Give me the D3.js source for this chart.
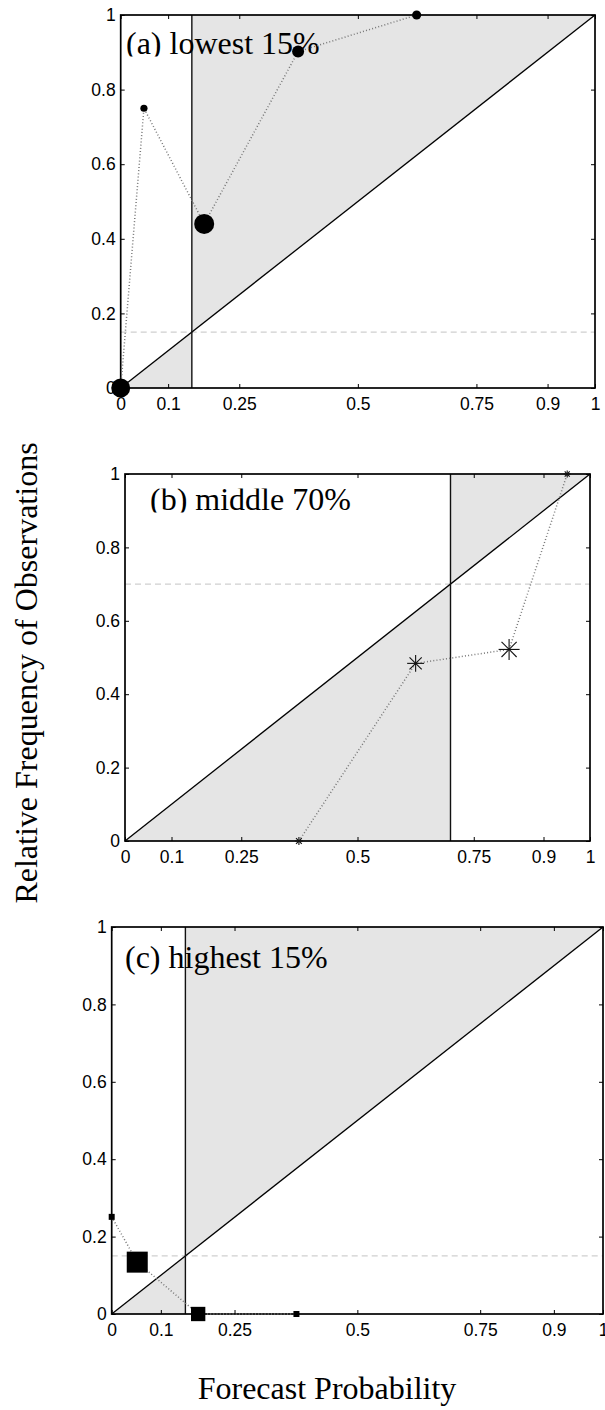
<!DOCTYPE html>
<html>
<head>
<meta charset="utf-8">
<script src="https://cdn.jsdelivr.net/npm/d3@7"></script>
<style>
  html, body { margin: 0; padding: 0; background: #fff; }
  svg { display: block; }
</style>
</head>
<body>
<script>
// ---------------- data ----------------
const xTicks = [0, 0.1, 0.25, 0.5, 0.75, 0.9, 1];
const yTicks = [0, 0.2, 0.4, 0.6, 0.8, 1];
const panelTitles = ["(a) lowest 15%", "(b) middle 70%", "(c) highest 15%"];
const climatology = [0.15, 0.70, 0.15];

const aForecast = [0, 0.049, 0.176, 0.374, 0.624];
const aObserved = [0, 0.75, 0.44, 0.902, 1];
const aWeight   = [0.35, 0.05, 0.39, 0.14, 0.08];

const bForecast = [0.374, 0.625, 0.826, 0.951];
const bObserved = [0, 0.484, 0.522, 1];
const bWeight   = [0.062, 0.28, 0.43, 0.048];

const cForecast = [0, 0.052, 0.176, 0.376];
const cObserved = [0.251, 0.134, 0, 0];
const cWeight   = [0.035, 0.43, 0.2, 0.035];

const xLabel = "Forecast Probability";
const yLabel = "Relative Frequency of Observations";

// ---------------- layout ----------------
const W = 605, H = 1410;
const panels = [
  {left: 120.7, right: 595, top: 15,  bottom: 388,  titleX: 126, titleY: 54,  clip: [0, 56.5],
   fx: aForecast, fy: aObserved, w: aWeight, marker: "circle"},
  {left: 125,   right: 590, top: 474, bottom: 841,  titleX: 150, titleY: 510, clip: [488.6, 512.5],
   fx: bForecast, fy: bObserved, w: bWeight, marker: "asterisk"},
  {left: 111.7, right: 603, top: 927, bottom: 1314, titleX: 125, titleY: 968, clip: [900, 1000],
   fx: cForecast, fy: cObserved, w: cWeight, marker: "square"}
];

const serif = "'Liberation Serif', 'Times New Roman', serif";
const sans = "'Liberation Sans', Arial, Helvetica, sans-serif";

const svg = d3.select("body").append("svg")
  .attr("width", W).attr("height", H)
  .attr("viewBox", `0 0 ${W} ${H}`);

const defs = svg.append("defs");
const sizeScale = d3.scaleSqrt().domain([0, 0.39]).range([0, 10]);

panels.forEach((p, i) => {
  const c = climatology[i];
  const x = d3.scaleLinear().domain([0, 1]).range([p.left, p.right]);
  const y = d3.scaleLinear().domain([0, 1]).range([p.bottom, p.top]);
  const g = svg.append("g");

  // shaded skill regions
  const poly = d3.line().x(d => x(d[0])).y(d => y(d[1]));
  g.append("path").attr("d", poly([[0, 0], [c, 0], [c, c]]) + "Z")
    .attr("fill", "#e5e5e5").attr("stroke", "none");
  g.append("path").attr("d", poly([[c, c], [c, 1], [1, 1]]) + "Z")
    .attr("fill", "#e5e5e5").attr("stroke", "none");

  // climatology dashed horizontal line
  g.append("line")
    .attr("x1", x(0)).attr("x2", x(1)).attr("y1", y(c)).attr("y2", y(c))
    .attr("stroke", "#cfcfcf").attr("stroke-width", 1.2).attr("stroke-dasharray", "6,4");

  // diagonal
  g.append("line")
    .attr("x1", x(0)).attr("y1", y(0)).attr("x2", x(1)).attr("y2", y(1))
    .attr("stroke", "#000").attr("stroke-width", 1.3);

  // vertical climatology line
  g.append("line")
    .attr("x1", x(c)).attr("x2", x(c)).attr("y1", y(0)).attr("y2", y(1))
    .attr("stroke", "#111").attr("stroke-width", 1.4);

  // axes (ticks inward)
  const fmt = d => String(d);
  const axB = g.append("g").attr("transform", `translate(0,${p.bottom})`)
    .call(d3.axisBottom(x).tickValues(xTicks).tickFormat(fmt).tickSizeInner(-4).tickSizeOuter(0).tickPadding(9.2));
  const axT = g.append("g").attr("transform", `translate(0,${p.top})`)
    .call(d3.axisTop(x).tickValues(xTicks).tickFormat("").tickSizeInner(-4).tickSizeOuter(0));
  const axL = g.append("g").attr("transform", `translate(${p.left},0)`)
    .call(d3.axisLeft(y).tickValues(yTicks).tickFormat(fmt).tickSizeInner(-4).tickSizeOuter(0).tickPadding(5));
  const axR = g.append("g").attr("transform", `translate(${p.right},0)`)
    .call(d3.axisRight(y).tickValues(yTicks).tickFormat("").tickSizeInner(-4).tickSizeOuter(0));
  [axB, axT, axL, axR].forEach(a => {
    a.select(".domain").remove();
    a.selectAll(".tick line").attr("stroke", "#000").attr("stroke-width", 1);
    a.selectAll(".tick text").attr("fill", "#000")
      .style("font-family", sans).style("font-size", "17.5px");
  });

  // frame box
  g.append("rect")
    .attr("x", p.left).attr("y", p.top)
    .attr("width", p.right - p.left).attr("height", p.bottom - p.top)
    .attr("fill", "none").attr("stroke", "#000").attr("stroke-width", 1.7);

  // panel title (clipped window as in the reference)
  const cid = "titleclip" + i;
  defs.append("clipPath").attr("id", cid).append("rect")
    .attr("x", 0).attr("y", p.clip[0]).attr("width", W).attr("height", p.clip[1] - p.clip[0]);
  g.append("text")
    .attr("x", p.titleX).attr("y", p.titleY)
    .attr("clip-path", `url(#${cid})`)
    .style("font-family", serif).style("font-size", "32px")
    .attr("fill", "#000")
    .text(panelTitles[i]);

  // reliability curve (dotted)
  const pts = p.fx.map((f, k) => [f, p.fy[k], p.w[k]]);
  g.append("path")
    .attr("d", d3.line().x(d => x(d[0])).y(d => y(d[1]))(pts))
    .attr("fill", "none").attr("stroke", "#777")
    .attr("stroke-width", 1.5).attr("stroke-dasharray", "1,2.2");

  // markers
  const mg = g.append("g");
  pts.forEach(d => {
    const r = sizeScale(d[2]);
    const cx = x(d[0]), cy = y(d[1]);
    if (p.marker === "circle") {
      mg.append("circle").attr("cx", cx).attr("cy", cy).attr("r", r).attr("fill", "#000");
    } else if (p.marker === "square") {
      mg.append("rect").attr("x", cx - r).attr("y", cy - r)
        .attr("width", 2 * r).attr("height", 2 * r).attr("fill", "#000");
    } else {
      const dd = r * 0.72;
      const segs = [[-r, 0, r, 0], [0, -r, 0, r], [-dd, -dd, dd, dd], [-dd, dd, dd, -dd]];
      segs.forEach(s => {
        mg.append("line")
          .attr("x1", cx + s[0]).attr("y1", cy + s[1])
          .attr("x2", cx + s[2]).attr("y2", cy + s[3])
          .attr("stroke", "#111").attr("stroke-width", 1.1);
      });
    }
  });
});

// global axis labels
svg.append("text")
  .attr("x", 327).attr("y", 1399)
  .attr("text-anchor", "middle")
  .style("font-family", serif).style("font-size", "32px")
  .text(xLabel);

svg.append("text")
  .attr("transform", "translate(37,673) rotate(-90)")
  .attr("text-anchor", "middle")
  .style("font-family", serif).style("font-size", "32px")
  .text(yLabel);
</script>
</body>
</html>
